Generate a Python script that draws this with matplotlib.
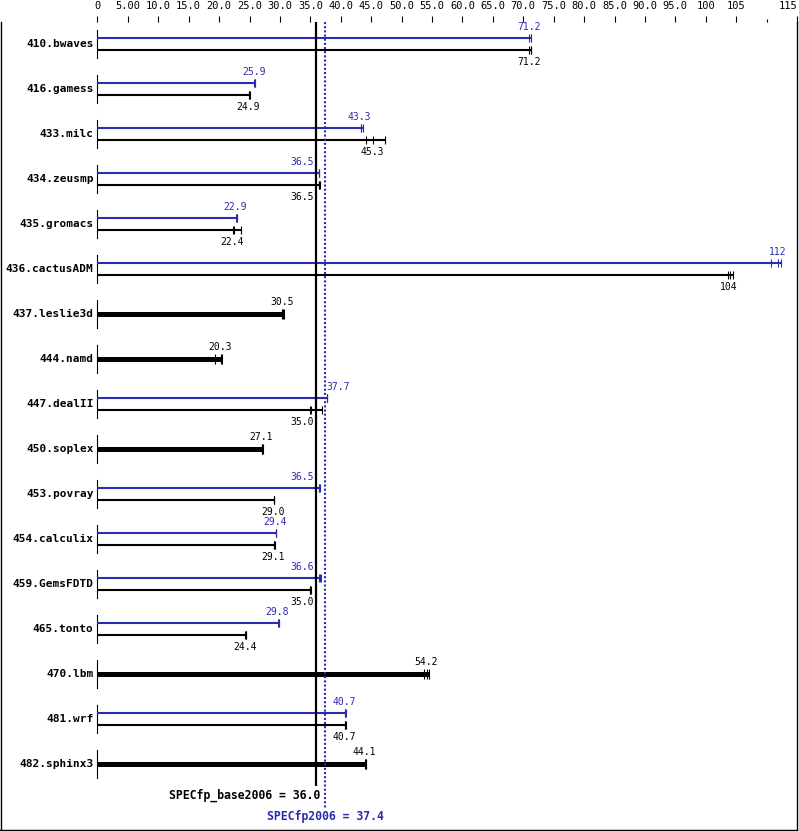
import matplotlib
matplotlib.use('Agg')
import matplotlib.pyplot as plt

benchmarks = ['410.bwaves', '416.gamess', '433.milc', '434.zeusmp', '435.gromacs',
              '436.cactusADM', '437.leslie3d', '444.namd', '447.dealII', '450.soplex',
              '453.povray', '454.calculix', '459.GemsFDTD', '465.tonto', '470.lbm',
              '481.wrf', '482.sphinx3']
base_score = [71.2, 24.9, 45.3, 36.5, 22.4, 104, 30.5, 20.3, 35.0, 27.1,
              29.0, 29.1, 35.0, 24.4, 54.2, 40.7, 44.1]
peak_score = [71.2, 25.9, 43.3, 36.5, 22.9, 112, None, None, 37.7, None,
              36.5, 29.4, 36.6, 29.8, None, 40.7, None]
base_runs = [[71.0, 71.2, 71.3], [24.9, 24.9, 25.0], [44.2, 45.3, 47.3], [36.5, 36.5, 36.6],
             [22.3, 22.4, 23.6], [103.6, 104, 104.5], [30.4, 30.5, 30.6], [19.3, 20.3, 20.4],
             [35.0, 35.1, 36.9], [27.0, 27.1, 27.2], [29.0, 29.0, 29.1], [29.0, 29.1, 29.2],
             [35.0, 35.0, 35.1], [24.3, 24.4, 24.4], [53.7, 54.2, 54.5], [40.7, 40.7, 40.8],
             [44.0, 44.1, 44.2]]
peak_runs = [[71.0, 71.2, 71.3], [25.8, 25.9, 25.9], [43.3, 43.4, 43.6], [36.4, 36.5, 36.5],
             [22.8, 22.9, 22.9], [110.8, 111.8, 112.3], None, None,
             [37.7, 37.7, 37.8], None, [36.5, 36.5, 36.6], [29.3, 29.4, 29.4],
             [36.5, 36.6, 36.7], [29.7, 29.8, 29.8], None, [40.7, 40.7, 40.8], None]
tick_values = [0, 5, 10, 15, 20, 25, 30, 35, 40, 45, 50, 55, 60, 65, 70, 75, 80, 85,
               90, 95, 100, 105, 110, 115]
tick_labels = ['0', '5.00', '10.0', '15.0', '20.0', '25.0', '30.0', '35.0', '40.0', '45.0',
               '50.0', '55.0', '60.0', '65.0', '70.0', '75.0', '80.0', '85.0', '90.0', '95.0',
               '100', '105', '', '115']
spec_base = 36.0
spec_peak = 37.4

BLUE = '#2b2bad'
FONT = 'DejaVu Sans Mono'
W, H = 799, 831
PX = 1 / 45.0          # one pixel in row units (rows are 45 px apart)
XPX = 115 / 700.0      # one pixel in score units

fig = plt.figure(figsize=(W / 100, H / 100), dpi=100)
# axes: left edge at pixel 0.5, right at 797, top at 22, bottom at 830
ax = fig.add_axes([0.5 / W, 1 / H, 796.5 / W, 808 / H])
ax.set_xlim(-97 * XPX, 115)
ax.set_ylim((830 - 44) * PX, (22 - 44) * PX)


def fmt(v):
    return f'{v:.0f}' if v >= 100 else f'{v:.1f}'


def place(v):
    # shift labels away from the two reference lines
    if 33 <= v < 37:
        return 35.6, 'right'
    if 37 <= v < 40:
        return spec_peak + 0.3, 'left'
    return v - 0.2, 'center'


for i, name in enumerate(benchmarks):
    ax.text(-4 * XPX, i, name, ha='right', va='center', fontsize=8,
            fontweight='bold', family=FONT)
    ax.plot([0, 0], [i - 14 * PX, i + 14 * PX], color='black', lw=0.8)
    if peak_score[i] is None:
        runs = base_runs[i]
        ax.plot([0, max(runs)], [i, i], color='black', lw=3.6, solid_capstyle='butt')
        ax.plot(runs, [i] * 3, ls='none', marker='|', ms=7.5, mew=0.8, color='black')
        x, ha = place(base_score[i])
        ax.text(x, i - 12 * PX, fmt(base_score[i]), ha=ha, va='center',
                fontsize=7, family=FONT, color='black')
    else:
        yp, yb = i - 6 * PX, i + 6 * PX
        runs = peak_runs[i]
        ax.plot([0, max(runs)], [yp, yp], color=BLUE, lw=1.5, solid_capstyle='butt')
        ax.plot(runs, [yp] * 3, ls='none', marker='|', ms=5.5, mew=0.8, color=BLUE)
        x, ha = place(peak_score[i])
        ax.text(x, yp - 11 * PX, fmt(peak_score[i]), ha=ha, va='center',
                fontsize=7, family=FONT, color=BLUE)
        runs = base_runs[i]
        ax.plot([0, max(runs)], [yb, yb], color='black', lw=1.5, solid_capstyle='butt')
        ax.plot(runs, [yb] * 3, ls='none', marker='|', ms=5.5, mew=0.8, color='black')
        x, ha = place(base_score[i])
        ax.text(x, yb + 12 * PX, fmt(base_score[i]), ha=ha, va='center',
                fontsize=7, family=FONT, color='black')

# reference lines
ax.vlines(spec_base, (22 - 44) * PX, (786 - 44) * PX, color='black', lw=1.6)
ax.vlines(spec_peak, (22 - 44) * PX, (808 - 44) * PX, color=BLUE, lw=1.5,
          linestyles=(0, (1, 1)))
ax.text(spec_base + 0.7, (795 - 44) * PX, f'SPECfp_base2006 = {spec_base:.1f}',
        ha='right', va='center', fontsize=8.3, fontweight='bold', family=FONT)
ax.text(spec_peak, (817 - 44) * PX, f'SPECfp2006 = {spec_peak:.1f}', ha='center',
        va='center', fontsize=8.3, fontweight='bold', family=FONT, color=BLUE)

# top scale
ax.xaxis.tick_top()
ax.set_xticks(tick_values)
ax.set_xticklabels(tick_labels, family=FONT, fontsize=7.5)
ax.tick_params(axis='x', direction='out', length=4.5, width=0.8, pad=3.5)
ax.xaxis.get_major_ticks()[-2].tick2line.set_markersize(2.5)
ax.get_xticklabels()[-1].set_horizontalalignment('right')
ax.set_yticks([])
ax.spines['top'].set_visible(False)
for s in ['left', 'right', 'bottom']:
    ax.spines[s].set_linewidth(1.0)

fig.savefig('out.png', dpi=100)
